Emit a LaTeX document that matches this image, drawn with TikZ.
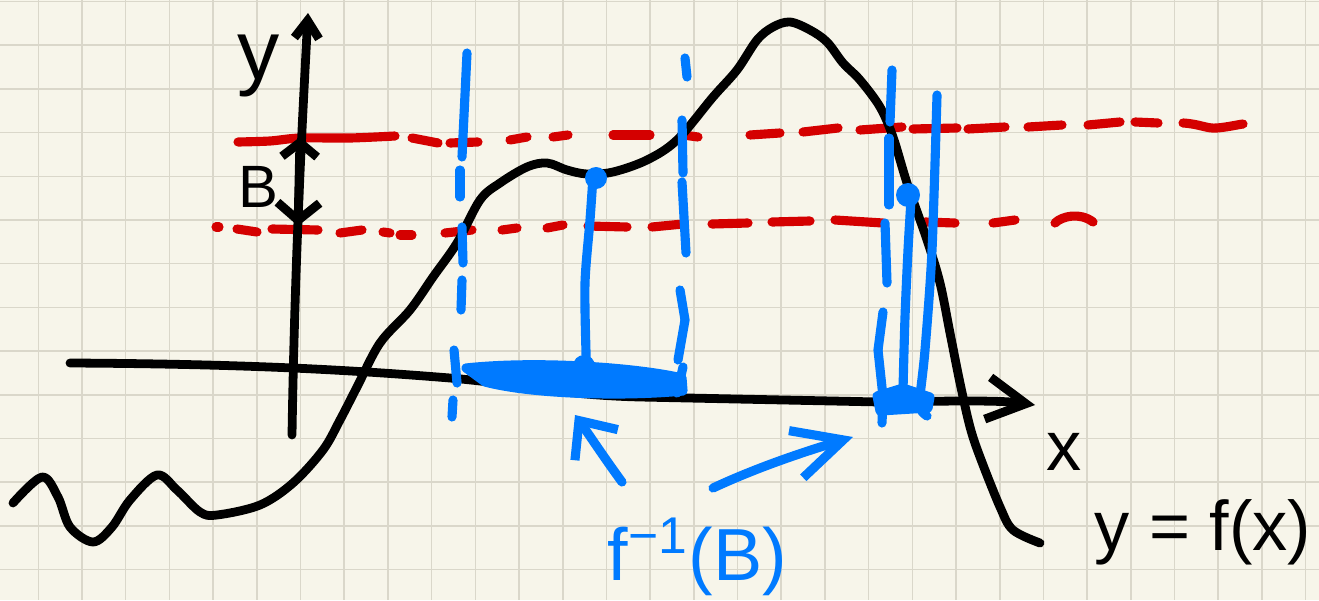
\documentclass[tikz,border=0pt]{standalone}
\usepackage{fontspec}
\setmainfont{Liberation Sans}
\usetikzlibrary{arrows.meta}
\definecolor{paperCream}{RGB}{247,245,234}
\definecolor{paperGrid}{RGB}{218,215,202}
\definecolor{inkRed}{RGB}{212,0,0}
\definecolor{inkBlue}{RGB}{0,122,255}
\tikzset{
  pen/.style={line width=2.5pt, line cap=round, line join=round},
  blackpen/.style={pen, black},
  redpen/.style={pen, inkRed, line width=2.6pt},
  bluepen/.style={pen, inkBlue, line width=2.6pt},
  gridline/.style={paperGrid, line width=0.45pt},
  hand/.style={inner sep=0pt, font=\fontsize{#1}{#1}\selectfont},
}

\begin{document}
\begin{tikzpicture}[x=0.1mm, y=-0.1mm]
\useasboundingbox (0,0) rectangle (1319,600);
\fill[paperCream] (0,0) rectangle (1319,600);
\foreach \i in {0,...,29}
  \draw[gridline] ({38.3+43.7*\i},0) -- ({38.3+43.7*\i},600);
\foreach \j in {0,...,13}
  \draw[gridline] (0,{1.5+43.7*\j}) -- (1319,{1.5+43.7*\j});

% the band B on the y axis
\draw[redpen] plot[smooth] coordinates {(238,142) (270,141) (300,138) (350,138) (395,136)};
\foreach \xa/\ya/\xb/\yb in {412/138/438/143, 450/143/478/142, 510/140/527/137, 553/137/568/135,
  613/135/650/135, 683/135/698/137, 750/135/780/133, 803/132/838/128, 860/130/902/127,
  913/129/957/128, 968/129/1005/127, 1028/127/1062/125, 1088/125/1120/122, 1135/122/1158/123}
  \draw[redpen] (\xa,\ya) -- (\xb,\yb);
\draw[redpen] (1183,123) .. controls (1200,124) and (1207,129) .. (1217,128) .. controls (1228,127) and (1236,125) .. (1243,124);
\foreach \xa/\ya/\xb/\yb in {216/227/219/227, 237/229/257/232, 272/229/318/230, 340/233/362/230,
  383/232/390/233, 400/235/412/235, 445/233/472/230, 502/230/517/228, 547/228/563/225,
  588/226/627/227, 652/227/683/224, 712/224/748/223, 772/222/810/221, 835/220/883/223,
  925/222/955/223, 993/223/1015/220}
  \draw[redpen] (\xa,\ya) -- (\xb,\yb);
\draw[redpen] (1055,223) .. controls (1062,216) and (1080,212) .. (1093,222);

% axes
\coordinate (yFoot) at (292,435);
\coordinate (yTip) at (308,13);
\draw[blackpen, -{Straight Barb[length=5pt,width=7pt]}] (yFoot) .. controls (295,250) and (303,110) .. (yTip);
\coordinate (xFoot) at (70,363);
\coordinate (xTip) at (1035,405);
\draw[blackpen, -{Straight Barb[length=11pt,width=12pt]}] (xFoot) .. controls (250,364) and (350,370) .. (450,378)
  .. controls (520,384) and (560,395) .. (640,397) -- (880,402) .. controls (950,401) and (1000,400) .. (xTip);
\coordinate (Btop) at (300,137);
\coordinate (Bbot) at (298,226);
\draw[blackpen, {Straight Barb[length=4pt,width=10pt]}-{Straight Barb[length=5pt,width=12pt]}] (Btop) -- (Bbot);

% graph of f
\draw[blackpen] plot[smooth, tension=0.55] coordinates {(13,503) (42,477) (58,497) (70,527) (93,542) (112,527)
  (130,500) (157,475) (177,490) (200,512) (217,515) (260,505) (293,483) (323,450) (340,420) (357,387)
  (380,343) (410,310) (433,277) (457,243) (480,200) (500,183) (527,167) (547,163) (567,170) (587,174)
  (613,172) (647,160) (677,140) (713,97) (737,70) (757,40) (773,27) (790,22) (810,30) (827,42) (843,63)
  (860,80) (880,107) (893,137) (907,183) (927,240) (940,283) (950,333) (960,383) (970,427) (980,457)
  (1000,507) (1013,530) (1040,543)};

% preimage f^-1(B)
\foreach \xa/\ya/\xb/\yb in {467/53/462/157, 460/170/460/197, 462/227/463/263, 462/280/461/310,
  454/350/457/383, 453/400/452/417,
  685/58/687/77, 682/120/683/173, 682/182/686/253, 680/290/685/320, 685/320/678/360, 683/367/677/393,
  892/70/890/122, 889/138/889/205, 885/223/887/283, 883/312/878/350, 878/350/883/397, 883/397/882/423}
  \draw[bluepen] (\xa,\ya) -- (\xb,\yb);
\draw[bluepen] plot[smooth] coordinates {(593,177) (590,220) (585,283) (586,353) (587,372)};
\fill[inkBlue] (596,178) circle (11);
\draw[bluepen] plot[smooth] coordinates {(911,200) (908,250) (905,317) (903,390) (903,402)};
\fill[inkBlue] (908,195) circle (12);
\draw[bluepen] plot[smooth] coordinates {(937,95) (932,250) (925,350) (920,397) (921,410) (927,416)};
\filldraw[bluepen, fill=inkBlue] (466,368) .. controls (540,360) and (640,368) .. (682,378) -- (683,391)
  .. controls (620,397) and (530,394) .. (485,382) -- cycle;
\fill[inkBlue] (584,366) circle (11);
\filldraw[bluepen, fill=inkBlue] (877,396) -- (903,388) -- (930,397) -- (928,408) -- (880,411) -- cycle;

\coordinate (lowTail) at (622,482);
\coordinate (lowTip) at (575,415);
\draw[bluepen, -{Straight Barb[length=8.5pt,width=15pt]}] (lowTail) .. controls (603,456) and (590,436) .. (lowTip);
\coordinate (highTail) at (713,488);
\coordinate (highTip) at (853,437);
\draw[bluepen, -{Straight Barb[length=14pt,width=14pt]}] (highTail) .. controls (760,466) and (810,450) .. (highTip);

% labels
\node[hand=24, anchor=base] (ylab) at (259,80) {y};
\node[hand=17, anchor=base] (Blab) at (258,207) {B};
\node[hand=20, anchor=base] (xlab) at (1064,470) {x};
\node[hand=20, anchor=base east] (graph) at (1312,550) {y = f(x)};
\node[hand=21, anchor=base west, text=inkBlue] (preimage) at (607,580) {f\textsuperscript{−1}(B)};
\end{tikzpicture}
\end{document}
